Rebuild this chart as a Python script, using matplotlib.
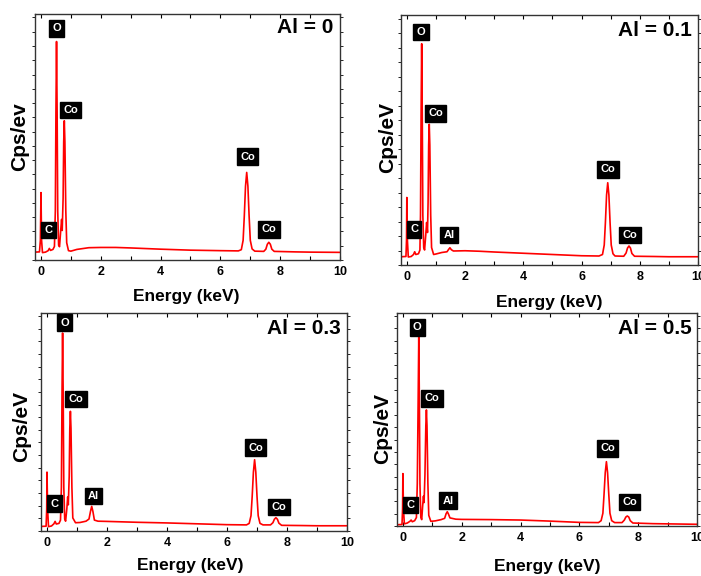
import matplotlib
matplotlib.use("Agg")
import matplotlib.pyplot as plt
from matplotlib.ticker import MultipleLocator, NullFormatter

plt.rcParams['font.family'] = ['Liberation Sans', 'DejaVu Sans']
plt.rcParams['font.weight'] = 'bold'

# ---------------- data (intensity in % of axis height) ----------------
titles = ["Al = 0", "Al = 0.1", "Al = 0.3", "Al = 0.5"]
ylabels = ["Cps/ev", "Cps/eV", "Cps/eV", "Cps/eV"]

energy_0 = [-0.2, -0.05, -0.02, 0.0, 0.02, 0.05, 0.15, 0.24, 0.28, 0.32, 0.40, 0.45, 0.48, 0.50, 0.52, 0.54, 0.56,
            0.59, 0.62, 0.66, 0.69, 0.71, 0.74, 0.76, 0.78, 0.80, 0.83, 0.86, 0.92, 1.0, 1.2, 1.6, 2.0, 2.5, 3.0,
            4.0, 5.0, 6.0, 6.6, 6.70, 6.76, 6.80, 6.84, 6.88, 6.92, 6.96, 7.00, 7.06, 7.15, 7.45, 7.52, 7.57, 7.62,
            7.67, 7.72, 7.8, 8.5, 9.0, 10.0]
counts_0 = [3.2, 3.3, 8, 27.4, 8, 3.0, 3.2, 3.8, 4.7, 3.9, 4.3, 5.5, 20, 60, 88.8, 60, 20,
            6, 5.4, 12, 16.5, 12, 25, 48, 56.6, 48, 20, 7, 3.8, 3.6, 4.3, 5.0, 5.1, 5.1, 4.9,
            4.4, 4.0, 3.8, 3.7, 4.2, 8, 18, 30, 35.6, 30, 18, 8, 4.5, 3.6, 3.5, 4.4, 6.4, 7.2, 6.4, 4.4,
            3.5, 3.3, 3.2, 3.1]

energy_1 = [-0.2, -0.03, -0.01, 0.0, 0.02, 0.05, 0.15, 0.23, 0.27, 0.31, 0.40, 0.45, 0.47, 0.49, 0.51, 0.53, 0.55,
            0.58, 0.61, 0.65, 0.68, 0.71, 0.73, 0.75, 0.77, 0.79, 0.82, 0.85, 0.92, 1.0, 1.2, 1.38, 1.44, 1.48,
            1.53, 1.6, 2.0, 2.5, 3.0, 4.0, 5.0, 6.0, 6.6, 6.72, 6.78, 6.82, 6.86, 6.90, 6.94, 6.98, 7.02, 7.08,
            7.15, 7.45, 7.53, 7.58, 7.63, 7.68, 7.73, 7.82, 8.5, 9.0, 10.0]
counts_1 = [3.3, 3.4, 10, 27, 10, 3.2, 3.4, 4.2, 5.3, 4.2, 4.5, 6, 20, 60, 88.5, 60, 20,
            7, 6, 12, 17, 13, 25, 48, 56.3, 48, 20, 7, 4.2, 4.4, 5.0, 5.3, 6.3, 6.9,
            6.1, 5.6, 5.7, 5.5, 5.2, 4.7, 4.2, 3.7, 3.6, 4.2, 8, 17, 28, 32.9, 28, 17, 8, 4.5,
            3.6, 3.5, 4.8, 6.8, 7.6, 6.8, 4.6, 3.5, 3.4, 3.3, 3.3]

energy_3 = [-0.2, -0.03, -0.01, 0.0, 0.02, 0.05, 0.15, 0.23, 0.27, 0.31, 0.40, 0.45, 0.48, 0.50, 0.52, 0.54, 0.56,
            0.59, 0.62, 0.66, 0.69, 0.71, 0.74, 0.76, 0.78, 0.80, 0.83, 0.86, 0.95, 1.1, 1.3, 1.40, 1.45, 1.49,
            1.53, 1.58, 1.7, 2.0, 3.0, 4.0, 5.0, 6.0, 6.65, 6.74, 6.80, 6.84, 6.88, 6.92, 6.96, 7.00, 7.04, 7.10,
            7.2, 7.45, 7.53, 7.58, 7.63, 7.68, 7.73, 7.82, 8.5, 9.0, 10.0]
counts_3 = [2.1, 2.2, 10, 27, 10, 2.0, 2.3, 3.3, 4.4, 3.2, 3.5, 5, 20, 62, 90.8, 62, 20,
            5.5, 4.5, 10, 15.6, 12, 25, 47, 54.9, 47, 20, 6, 3.8, 3.9, 4.5, 5.5, 9, 11.3,
            9, 5, 4.5, 4.4, 4.0, 3.7, 3.3, 2.9, 2.8, 3.5, 7, 16, 27, 32.7, 27, 16, 7, 3.5,
            2.8, 2.8, 3.8, 5.4, 6.1, 5.4, 3.6, 2.6, 2.5, 2.4, 2.4]

energy_5 = [-0.2, -0.03, -0.01, 0.0, 0.02, 0.05, 0.15, 0.24, 0.28, 0.32, 0.40, 0.46, 0.49, 0.52, 0.54, 0.56, 0.58,
            0.61, 0.64, 0.67, 0.70, 0.72, 0.75, 0.78, 0.80, 0.82, 0.85, 0.88, 0.95, 1.1, 1.3, 1.42, 1.47, 1.51,
            1.55, 1.6, 1.8, 2.0, 3.0, 4.0, 5.0, 6.0, 6.65, 6.74, 6.80, 6.84, 6.88, 6.92, 6.96, 7.00, 7.04, 7.10,
            7.2, 7.45, 7.53, 7.58, 7.63, 7.68, 7.73, 7.82, 8.5, 9.0, 10.0]
counts_5 = [0.6, 0.7, 8, 24.6, 8, 1.0, 1.4, 2.2, 2.8, 2.0, 2.5, 4, 20, 60, 88.6, 60, 20,
            4, 3.0, 9, 14, 11, 24, 47, 54.5, 47, 20, 5, 2.2, 2.4, 3.0, 3.6, 5.8, 6.7,
            5.6, 3.8, 3.2, 3.1, 3.0, 2.8, 2.3, 1.7, 1.6, 2.5, 6, 15, 25, 30.2, 25, 15, 6, 2.5,
            1.6, 1.6, 2.8, 4.2, 4.7, 4.2, 2.5, 1.4, 1.1, 1.0, 0.8]

energies = [energy_0, energy_1, energy_3, energy_5]
counts = [counts_0, counts_1, counts_3, counts_5]

# peak labels: (text, energy, height)
peak_text_0 = ["O", "Co", "C", "Co", "Co"]
peak_x_0 = [0.52, 0.99, 0.25, 6.91, 7.63]
peak_y_0 = [94.2, 61.0, 12.2, 42.0, 12.5]

peak_text_1 = ["O", "Co", "C", "Al", "Co", "Co"]
peak_x_1 = [0.48, 0.99, 0.25, 1.46, 6.91, 7.67]
peak_y_1 = [93.2, 60.6, 14.2, 12.0, 38.3, 12.0]

peak_text_3 = ["O", "Co", "C", "Al", "Co", "Co"]
peak_x_3 = [0.59, 0.97, 0.26, 1.55, 6.95, 7.74]
peak_y_3 = [95.6, 60.5, 12.5, 16.0, 38.2, 11.0]

peak_text_5 = ["O", "Co", "C", "Al", "Co", "Co"]
peak_x_5 = [0.49, 0.99, 0.26, 1.54, 6.96, 7.71]
peak_y_5 = [93.3, 60.0, 9.9, 11.9, 36.5, 11.3]

peak_texts = [peak_text_0, peak_text_1, peak_text_3, peak_text_5]
peak_xs = [peak_x_0, peak_x_1, peak_x_3, peak_x_5]
peak_ys = [peak_y_0, peak_y_1, peak_y_3, peak_y_5]

xticks = [0, 2, 4, 6, 8, 10]

# ---------------- layout ----------------
W, H = 701, 576
fig = plt.figure(figsize=(W / 100, H / 100), dpi=100)

# axes boxes in pixels: left, top, right, bottom
boxes = [(35, 14, 340, 260), (401, 15, 698, 265), (41, 313, 347, 531), (397, 313, 697, 526)]
xlabel_pos = [(0.495, -0.150), (0.50, -0.148), (0.487, -0.156), (0.50, -0.19)]
ylabel_pos = [(-0.049, 0.50), (-0.044, 0.51), (-0.062, 0.48), (-0.047, 0.46)]
title_pos = [(0.977, 0.947), (0.98, 0.94), (0.98, 0.93), (0.983, 0.925)]

for i in range(4):
    l, t, r, b = boxes[i]
    ax = fig.add_axes([l / W, 1 - b / H, (r - l) / W, (b - t) / H])
    ax.plot(energies[i], counts[i], color='#ff0000', lw=1.2)
    ax.set_xlim(-0.2, 10)
    ax.set_ylim(0, 100)
    ax.set_xticks(xticks)
    ax.set_xticklabels([str(v) for v in xticks], fontsize=9, fontweight='bold')
    ax.xaxis.set_minor_locator(MultipleLocator(1))
    ax.yaxis.set_major_locator(MultipleLocator(5.8))
    ax.yaxis.set_major_formatter(NullFormatter())
    ax.tick_params(axis='x', which='both', direction='in', top=True, length=3, width=0.8, pad=4)
    ax.tick_params(axis='y', which='both', direction='out', right=True, length=2.5, width=0.6)
    for s in ax.spines.values():
        s.set_linewidth(1.0)
        s.set_color('#333333')
    ax.set_xlabel("Energy (keV)", fontsize=12.5, fontweight='bold', va='center')
    ax.xaxis.set_label_coords(*xlabel_pos[i])
    ax.set_ylabel(ylabels[i], fontsize=15, fontweight='bold', va='center')
    ax.yaxis.set_label_coords(*ylabel_pos[i])
    ax.text(title_pos[i][0], title_pos[i][1], titles[i], transform=ax.transAxes, ha='right', va='center',
            fontsize=15, fontweight='bold')
    for txt, px, py in zip(peak_texts[i], peak_xs[i], peak_ys[i]):
        ax.text(px, py, txt, ha='center', va='center', color='white', fontsize=8, fontweight='bold',
                bbox=dict(boxstyle='square,pad=0.3', fc='black', ec='black'))

fig.savefig("out.png", dpi=100)
